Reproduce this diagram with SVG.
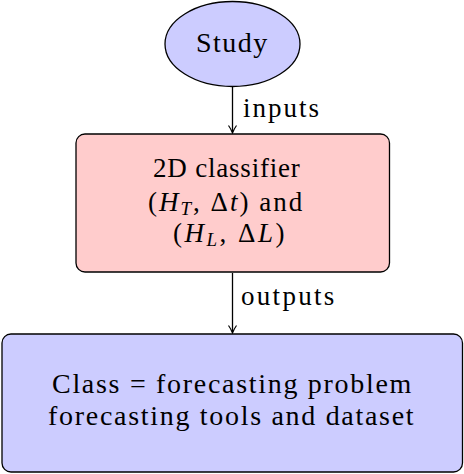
<svg xmlns="http://www.w3.org/2000/svg" width="464" height="474" viewBox="0 0 464 474">
<g id="connectors">
<line x1="232.5" y1="87" x2="232.5" y2="132" stroke="#000" stroke-width="1.3"/>
<path d="M228.5,125.5 Q231,129 232.5,133 Q234,129 236.5,125.5" fill="none" stroke="#000" stroke-width="1.2"/>
<line x1="232.5" y1="273" x2="232.5" y2="332" stroke="#000" stroke-width="1.3"/>
<path d="M228.5,325.5 Q231,329 232.5,333 Q234,329 236.5,325.5" fill="none" stroke="#000" stroke-width="1.2"/>
<text x="243" y="117" font-family="Liberation Serif" font-size="27" letter-spacing="2">inputs</text>
<text x="241" y="305" font-family="Liberation Serif" font-size="27" letter-spacing="2.3">outputs</text>
</g>
<g id="study">
<ellipse cx="232.5" cy="44" rx="67.5" ry="42.5" fill="#ccccff" stroke="#000" stroke-width="1.3"/>
<text x="196" y="52" font-family="Liberation Serif" font-size="28" letter-spacing="1.5">Study</text>
</g>
<g id="classifier">
<rect x="76" y="134" width="313.5" height="138" rx="9" fill="#ffcccc" stroke="#000" stroke-width="1.3"/>
<text x="153" y="177" font-family="Liberation Serif" font-size="27" letter-spacing="0.8">2D classifier</text>
<text x="148" y="211" font-family="Liberation Serif" font-size="27" letter-spacing="2">(<tspan font-style="italic">H</tspan><tspan font-size="19" font-style="italic" dy="4">T</tspan><tspan dy="-4">, &#916;</tspan><tspan font-style="italic">t</tspan>) and</text>
<text x="173" y="242" font-family="Liberation Serif" font-size="27" letter-spacing="2.5">(<tspan font-style="italic">H</tspan><tspan font-size="19" font-style="italic" dy="4">L</tspan><tspan dy="-4">, &#916;</tspan><tspan font-style="italic">L</tspan>)</text>
</g>
<g id="class">
<rect x="2" y="334" width="460.5" height="138" rx="9" fill="#ccccff" stroke="#000" stroke-width="1.3"/>
<text x="52" y="393" font-family="Liberation Serif" font-size="28" letter-spacing="1.7">Class = forecasting problem</text>
<text x="48" y="425" font-family="Liberation Serif" font-size="28" letter-spacing="1.7">forecasting tools and dataset</text>
</g>
</svg>
